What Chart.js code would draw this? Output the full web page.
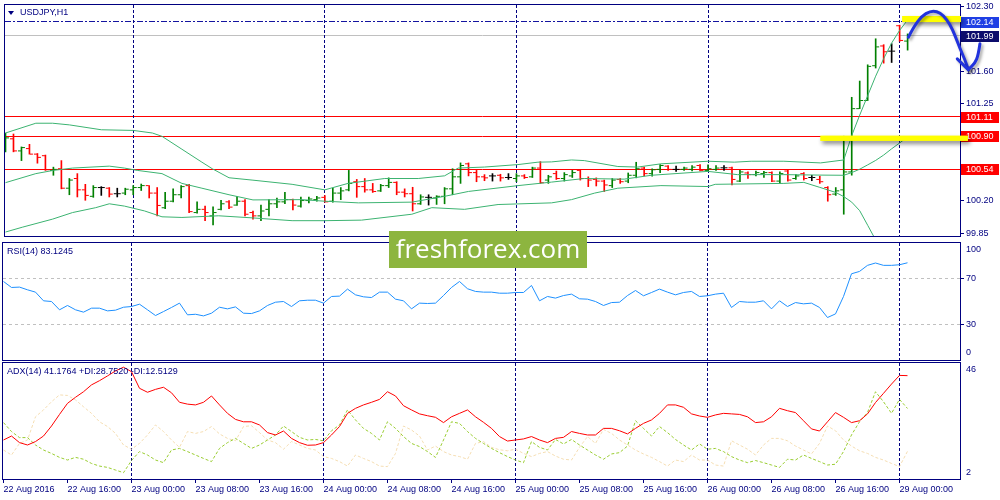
<!DOCTYPE html>
<html>
<head>
<meta charset="utf-8">
<title>USDJPY,H1</title>
<script src="https://cdn.jsdelivr.net/npm/chart.js@4.4.1/dist/chart.umd.min.js"></script>
<style>
  body { margin: 0; background: #fff; }
  #wrap { position: relative; width: 1000px; height: 500px; overflow: hidden; background: #fff; }
  #wrap canvas { position: absolute; left: 0; }
</style>
</head>
<body>
<div id="wrap">
  <canvas id="priceChart" width="1000" height="241" style="top:0px"></canvas>
  <canvas id="adxChart" width="1000" height="139" style="top:361px"></canvas>
  <canvas id="rsiChart" width="1000" height="137" style="top:225px"></canvas>
</div>
<script>
// ---- data (H1 bars from 22 Aug 2016 08:00 to 29 Aug 2016 01:00) ----
const opens = [100.793,100.871,100.740,100.765,100.705,100.688,100.529,100.547,100.336,100.441,
  100.318,100.248,100.343,100.336,100.276,100.283,100.318,100.343,100.364,100.283,
  100.124,100.195,100.265,100.364,100.072,100.107,100.036,100.107,100.188,100.153,
  100.195,100.072,100.036,100.107,100.167,100.188,100.212,100.142,100.202,100.212,
  100.237,100.195,100.283,100.318,100.406,100.353,100.318,100.307,100.364,100.399,
  100.293,100.276,100.167,100.237,100.230,100.248,100.329,100.459,100.600,100.505,
  100.459,100.469,100.476,100.452,100.441,100.469,100.459,100.554,100.424,100.494,
  100.441,100.469,100.529,100.441,100.431,100.413,100.364,100.431,100.413,100.476,
  100.554,100.494,100.540,100.575,100.540,100.540,100.540,100.582,100.529,100.540,
  100.557,100.557,100.413,100.501,100.483,100.494,100.505,100.413,100.522,100.441,
  100.494,100.452,100.431,100.343,100.272,100.318,100.512,101.198,101.286,101.663,
  101.877,101.821,102.096,101.930];
const highs = [100.934,100.923,100.783,100.811,100.712,100.695,100.564,100.635,100.441,100.494,
  100.378,100.364,100.353,100.343,100.336,100.336,100.364,100.381,100.364,100.343,
  100.290,100.329,100.364,100.378,100.188,100.142,100.135,100.205,100.202,100.248,
  100.212,100.089,100.153,100.212,100.230,100.290,100.219,100.241,100.241,100.248,
  100.255,100.336,100.343,100.529,100.431,100.441,100.388,100.378,100.448,100.406,
  100.329,100.346,100.265,100.265,100.255,100.343,100.547,100.610,100.610,100.529,
  100.483,100.494,100.487,100.494,100.494,100.483,100.564,100.624,100.476,100.522,
  100.505,100.529,100.536,100.459,100.448,100.424,100.441,100.441,100.501,100.617,
  100.564,100.547,100.593,100.582,100.575,100.564,100.582,100.593,100.589,100.582,
  100.582,100.564,100.529,100.512,100.522,100.519,100.512,100.512,100.536,100.483,
  100.505,100.476,100.466,100.353,100.343,100.899,101.321,101.497,101.673,101.955,
  101.891,101.902,102.103,102.008];
const lows = [100.730,100.730,100.635,100.705,100.607,100.529,100.476,100.329,100.265,100.241,
  100.205,100.237,100.258,100.241,100.241,100.265,100.265,100.311,100.230,100.036,
  100.114,100.188,100.230,100.072,100.065,99.984,99.938,100.100,100.114,100.149,
  100.036,100.001,99.984,100.036,100.124,100.167,100.100,100.131,100.177,100.195,
  100.184,100.184,100.212,100.307,100.237,100.293,100.290,100.300,100.343,100.265,
  100.241,100.089,100.160,100.153,100.160,100.167,100.265,100.388,100.469,100.406,
  100.417,100.413,100.413,100.431,100.406,100.441,100.452,100.388,100.388,100.431,
  100.413,100.452,100.424,100.353,100.360,100.300,100.343,100.388,100.395,100.448,
  100.469,100.466,100.505,100.529,100.519,100.529,100.522,100.522,100.522,100.529,
  100.529,100.371,100.406,100.441,100.469,100.452,100.406,100.388,100.413,100.431,
  100.424,100.417,100.388,100.195,100.258,100.054,100.477,101.198,101.286,101.638,
  101.691,101.698,101.927,101.832];
const closes = [100.881,100.740,100.776,100.705,100.670,100.536,100.540,100.336,100.424,100.318,
  100.258,100.343,100.343,100.272,100.276,100.325,100.343,100.364,100.283,100.149,
  100.195,100.265,100.353,100.082,100.107,100.072,100.072,100.167,100.131,100.195,
  100.054,100.036,100.089,100.167,100.188,100.212,100.153,100.202,100.219,100.230,
  100.188,100.283,100.307,100.388,100.353,100.318,100.300,100.364,100.399,100.293,
  100.276,100.167,100.241,100.237,100.248,100.329,100.459,100.582,100.505,100.459,
  100.448,100.469,100.448,100.452,100.469,100.452,100.554,100.395,100.459,100.441,
  100.483,100.505,100.441,100.424,100.413,100.371,100.424,100.406,100.476,100.547,
  100.494,100.536,100.582,100.540,100.540,100.554,100.564,100.529,100.547,100.554,
  100.557,100.431,100.512,100.483,100.505,100.505,100.413,100.494,100.424,100.469,
  100.441,100.452,100.406,100.265,100.307,100.512,101.198,101.286,101.656,101.867,
  101.814,101.821,101.937,101.990];

// Bollinger bands as [bar, price]
const bbUpper = [[0,100.934],[3.8,101.040],[5.9,101.040],[8,101.022],[12,100.969],[16,100.962],
  [18.4,100.934],[19.6,100.898],[22.1,100.758],[24.6,100.618],[25.9,100.547],[28,100.449],
  [31,100.423],[35.9,100.378],[40,100.318],[42.9,100.388],[47.5,100.441],[51.7,100.441],
  [55,100.470],[56.7,100.554],[60,100.565],[64.2,100.592],[66.7,100.618],[68.4,100.621],
  [70.9,100.642],[72.5,100.635],[76.7,100.571],[79.2,100.565],[82.1,100.600],[88,100.628],
  [91.3,100.618],[93.4,100.628],[97.5,100.628],[102.1,100.610],[105,100.642],[106,100.906],
  [107,101.128],[108,101.339],[109,101.550],[110,101.740],[111,101.909],[112,102.046],[113,102.159]];
const bbMiddle = [[0,100.396],[3.8,100.494],[6,100.529],[8.4,100.554],[13,100.575],[14.9,100.554],
  [16.5,100.529],[19.6,100.494],[22.1,100.388],[24.6,100.336],[28,100.265],[31,100.209],
  [37.1,100.212],[40,100.195],[44.2,100.177],[50.9,100.185],[55,100.248],[58,100.301],
  [64.2,100.364],[68.4,100.402],[72.5,100.441],[77.5,100.434],[80.9,100.476],[88,100.518],
  [91.7,100.483],[97.5,100.483],[102,100.478],[105,100.476],[106,100.505],[107,100.542],
  [108,100.589],[109,100.637],[110,100.695],[111,100.763],[112,100.826],[113,100.892]];
const bbLower = [[0,99.861],[2.1,99.913],[5.9,100.001],[8.4,100.072],[11.3,100.125],[13,100.167],
  [14.9,100.142],[17.4,100.090],[19.6,100.026],[22.1,100.019],[26.7,100.037],[31,100.014],
  [35.9,99.984],[40,99.984],[44.6,99.990],[50.9,100.054],[53.4,100.125],[57.5,100.107],
  [61.7,100.159],[68.4,100.177],[70.9,100.212],[73.8,100.283],[76.7,100.336],[82.1,100.364],
  [88,100.354],[88.9,100.378],[97.5,100.388],[100,100.399],[102,100.345],[104,100.290],
  [105,100.245],[106,100.185],[107,100.092],[108,99.934],[109,99.775],[110,99.638],
  [111,99.511],[112,99.385],[113,99.279]];

const rsi = [67.1,62.0,62.3,60.0,58.0,50.6,50.0,42.9,46.6,42.9,
  40.9,44.3,44.3,42.0,42.6,45.1,45.7,47.7,42.9,38.0,
  41.4,44.9,48.6,38.6,39.1,37.7,40.0,45.1,43.7,45.4,
  40.0,39.7,42.0,46.6,49.4,50.0,45.7,50.6,51.1,51.1,
  48.6,54.3,54.6,60.6,55.7,54.0,53.4,58.0,58.0,52.0,
  50.6,43.7,48.6,48.3,48.6,55.1,62.0,67.1,60.9,58.6,
  58.0,58.0,57.1,57.1,57.7,57.7,63.7,50.6,54.3,52.9,
  55.1,56.3,52.3,52.0,50.0,46.6,49.1,49.4,55.1,59.4,
  54.9,57.7,60.6,58.0,55.7,57.7,58.6,54.3,54.9,56.3,
  57.1,44.9,50.0,49.4,49.4,50.6,43.7,50.6,45.7,49.1,
  48.0,48.6,44.9,36.3,39.4,54.3,73.7,75.7,80.9,82.9,
  80.9,80.9,81.4,83.1];
const adx = [16.8,18.3,15.8,14.9,16.2,18.3,22.1,26.5,30.7,33.0,
  35.1,37.7,39.3,41.1,43.0,44.4,42.7,36.4,34.9,36.0,
  36.8,34.7,31.1,30.4,30.1,31.1,33.5,30.1,26.9,24.6,
  23.7,23.7,22.5,19.6,18.7,20.2,17.4,15.8,14.8,14.9,
  15.8,18.7,21.9,26.9,28.8,30.1,31.1,32.2,35.1,33.5,
  29.8,28.2,26.7,26.0,25.4,23.4,25.6,26.9,28.2,25.6,
  23.5,21.2,18.1,16.4,16.8,17.2,18.1,16.8,15.8,17.4,
  17.8,20.0,19.3,18.7,18.7,21.2,21.2,20.3,19.1,21.2,
  23.1,24.4,26.9,30.1,30.1,29.2,26.7,25.9,25.4,26.3,
  26.9,26.7,26.5,25.6,23.4,23.7,25.6,28.8,27.9,27.2,
  24.1,21.0,20.2,23.7,27.2,25.4,23.4,24.1,26.7,31.0,
  34.5,38.0,41.3,41.2];
const plusDI = [23.4,20.0,17.7,17.7,14.9,13.0,11.7,10.2,9.2,10.2,
  9.5,7.9,6.9,6.4,5.4,4.4,9.0,12.4,11.1,9.2,
  8.2,13.0,13.6,12.4,11.1,9.8,8.6,13.6,15.8,17.4,
  15.5,13.6,14.9,16.8,18.7,22.1,20.0,17.8,16.8,17.0,
  16.5,20.3,22.5,28.2,24.4,21.2,19.3,16.8,23.7,21.2,
  18.1,15.5,14.3,12.4,10.2,16.8,23.7,23.1,20.0,17.4,
  15.5,13.6,12.0,10.5,9.2,8.2,16.2,14.0,13.0,17.0,
  15.3,17.0,14.9,13.0,11.1,9.5,11.5,12.0,14.5,24.1,
  21.2,18.3,21.9,19.6,17.0,14.9,13.0,15.3,13.3,13.6,
  12.4,10.5,9.2,8.2,9.0,8.2,7.3,6.4,9.5,9.2,
  11.1,9.8,8.6,7.3,7.6,12.4,18.7,23.7,27.2,35.1,
  31.3,26.9,32.2,28.75];
const minusDI = [13.0,11.1,15.5,16.8,25.6,28.2,31.3,33.9,33.7,32.0,
  29.4,26.9,23.7,21.9,19.3,14.9,13.3,15.5,18.7,22.5,
  20.0,16.8,14.0,20.0,19.3,20.0,21.9,19.1,17.4,16.5,
  21.9,22.2,19.6,16.8,15.8,13.3,16.2,14.9,13.6,13.0,
  10.5,9.8,8.6,6.9,11.1,9.8,8.6,6.9,6.7,11.7,
  22.1,20.6,18.3,13.0,14.5,12.4,11.1,10.5,9.5,15.5,
  16.2,14.0,13.1,12.7,13.3,11.7,10.5,11.7,12.4,10.7,
  9.5,9.2,14.0,18.1,15.5,20.8,19.3,16.8,14.9,13.0,
  11.5,10.2,8.6,6.9,9.2,8.6,11.1,9.2,9.2,7.3,
  6.9,16.5,14.9,13.3,11.1,14.9,17.4,17.4,16.5,14.5,
  13.0,11.5,15.5,22.1,20.3,16.8,14.5,12.7,11.7,10.2,
  9.2,7.9,6.7,12.51];

const tickIdx = [0,8,16,24,32,40,48,56,64,72,80,88,96,104,112];
const tickLabels = ['22 Aug 2016','22 Aug 16:00','23 Aug 00:00','23 Aug 08:00','23 Aug 16:00',
  '24 Aug 00:00','24 Aug 08:00','24 Aug 16:00','25 Aug 00:00','25 Aug 08:00','25 Aug 16:00',
  '26 Aug 00:00','26 Aug 08:00','26 Aug 16:00','29 Aug 00:00'];
const daySeps = [16, 40, 64, 88, 112];
const priceTicks = [99.85, 100.20, 101.25, 101.60, 102.30];
const rsiLevels = [70, 30];

// chart objects drawn on the price panel
const levelPrices = [101.11, 100.90, 100.54];
const markPrice = 102.14;
const bidPrice = 101.99;
const tagPrices = [102.14, 101.99, 101.11, 100.90, 100.54];
const tagColors = ['#1f3fe4', '#0c0c6c', '#ff0000', '#ff0000', '#ff0000'];
const zones = [[112.31, 119.69, 102.136, 102.202], [102.06, 120.56, 100.848, 100.906]];
const arrowCurve = [[113.1,101.972],[113.73,102.078],[114.78,102.202],[115.81,102.254],[116.65,102.254],
  [117.48,102.208],[118.31,102.113],[118.94,101.990],[119.56,101.849],[120.19,101.726],[120.6,101.621]];
const arrowBarbL = [[119.22,101.737],[119.8,101.687],[120.6,101.621]];
const arrowBarbR = [[122.06,101.902],[121.85,101.779],[121.44,101.690],[120.6,101.621]];

// ---- styling ----
const NAVY = '#000080';
const FONT = '"Liberation Sans", Arial, sans-serif';
const X_MIN = -0.0625, X_MAX = 119.5625;
Chart.defaults.font.family = FONT;
Chart.defaults.font.size = 9;
Chart.defaults.color = NAVY;

const bars = closes.map((_, i) => i);
const barColor = closes.map((c, i) => c > opens[i] ? '#008000' : (c < opens[i] ? '#ff0000' : '#000000'));
const pairs = arr => arr.map(p => ({ x: p[0], y: p[1] }));
const series = arr => arr.map((v, i) => ({ x: i, y: v }));

function hiddenX() {
  return { type: 'linear', min: X_MIN, max: X_MAX, display: false, offset: false };
}
function rightAxis(extra) {
  return Object.assign({
    position: 'right',
    afterFit: s => { s.width = 40; s.paddingTop = 0; s.paddingBottom = 0; },
    border: { display: false }
  }, extra);
}

function drawFrame(chart) {
  const { ctx, chartArea: a } = chart;
  ctx.save();
  ctx.strokeStyle = NAVY;
  ctx.lineWidth = 1;
  ctx.strokeRect(a.left - 0.5, a.top - 0.5, a.right - a.left + 1, a.bottom - a.top + 1);
  ctx.restore();
}

function drawDaySeps(chart) {
  const { ctx, chartArea: a, scales: { x } } = chart;
  ctx.save();
  ctx.strokeStyle = NAVY;
  ctx.lineWidth = 1;
  ctx.setLineDash([3, 2]);
  daySeps.forEach(i => {
    const xp = Math.floor(x.getPixelForValue(i)) + 0.5;
    ctx.beginPath();
    ctx.moveTo(xp, a.top);
    ctx.lineTo(xp, a.bottom);
    ctx.stroke();
  });
  ctx.restore();
}

function hline(chart, price, color, dash) {
  const { ctx, chartArea: a, scales: { y } } = chart;
  const yp = Math.floor(y.getPixelForValue(price)) + 0.5;
  ctx.save();
  ctx.strokeStyle = color;
  ctx.lineWidth = 1;
  ctx.setLineDash(dash);
  ctx.beginPath();
  ctx.moveTo(a.left, yp);
  ctx.lineTo(a.right, yp);
  ctx.stroke();
  ctx.restore();
}

function smoothPath(ctx, pts) {
  ctx.beginPath();
  ctx.moveTo(pts[0][0], pts[0][1]);
  for (let k = 1; k < pts.length - 1; k++) {
    const mx = (pts[k][0] + pts[k + 1][0]) / 2, my = (pts[k][1] + pts[k + 1][1]) / 2;
    ctx.quadraticCurveTo(pts[k][0], pts[k][1], mx, my);
  }
  const last = pts[pts.length - 1];
  ctx.lineTo(last[0], last[1]);
  ctx.stroke();
}

function panelTitle(chart, text) {
  const { ctx, chartArea: a } = chart;
  ctx.save();
  ctx.fillStyle = NAVY;
  ctx.font = '9px ' + FONT;
  ctx.textBaseline = 'middle';
  ctx.fillText(text, a.left + 4, a.top + 9);
  ctx.restore();
}

const pricePlugin = {
  id: 'priceOverlay',
  beforeDatasetsDraw(chart) {
    hline(chart, bidPrice, '#c0c0c0', []);
    levelPrices.forEach(p => hline(chart, p, '#ff0000', []));
    hline(chart, markPrice, '#1414a0', [6, 2, 2, 2]);
    drawDaySeps(chart);
  },
  afterDraw(chart) {
    const { ctx, chartArea: a, scales: { x, y } } = chart;
    const toPx = p => [x.getPixelForValue(p[0]), y.getPixelForValue(p[1])];

    // price tags on the axis
    ctx.save();
    ctx.font = '9px ' + FONT;
    ctx.textBaseline = 'middle';
    tagPrices.forEach((p, k) => {
      const yp = Math.round(y.getPixelForValue(p));
      ctx.fillStyle = tagColors[k];
      ctx.fillRect(a.right + 1, yp - 5, 38, 11);
      ctx.fillStyle = '#ffffff';
      ctx.fillText(p.toFixed(2), a.right + 6, yp + 0.5);
    });
    ctx.restore();

    drawFrame(chart);

    // yellow highlight boxes (annotation layer, over the tags)
    ctx.save();
    ctx.fillStyle = '#ffff00';
    ctx.shadowColor = 'rgba(0,0,0,0.45)';
    ctx.shadowBlur = 4;
    ctx.shadowOffsetX = 2;
    ctx.shadowOffsetY = 3;
    zones.forEach(z => {
      const x0 = x.getPixelForValue(z[0]), x1 = x.getPixelForValue(z[1]);
      const y0 = y.getPixelForValue(z[3]), y1 = y.getPixelForValue(z[2]);
      ctx.fillRect(x0, y0, x1 - x0, y1 - y0);
    });
    ctx.restore();

    // hand-drawn arrow
    ctx.save();
    ctx.strokeStyle = '#2233dd';
    ctx.lineWidth = 3;
    ctx.lineCap = 'round';
    ctx.lineJoin = 'round';
    ctx.shadowColor = 'rgba(0,0,0,0.35)';
    ctx.shadowBlur = 3;
    ctx.shadowOffsetX = 2;
    ctx.shadowOffsetY = 2;
    smoothPath(ctx, arrowCurve.map(toPx));
    smoothPath(ctx, arrowBarbL.map(toPx));
    smoothPath(ctx, arrowBarbR.map(toPx));
    ctx.restore();

    // symbol title
    ctx.save();
    ctx.fillStyle = NAVY;
    ctx.beginPath();
    ctx.moveTo(a.left + 3, a.top + 6);
    ctx.lineTo(a.left + 9, a.top + 6);
    ctx.lineTo(a.left + 6, a.top + 10);
    ctx.closePath();
    ctx.fill();
    ctx.font = '9px ' + FONT;
    ctx.textBaseline = 'middle';
    ctx.fillText('USDJPY,H1', a.left + 15, a.top + 8);
    ctx.restore();
  }
};

new Chart(document.getElementById('priceChart'), {
  type: 'line',
  data: {
    datasets: [
      { data: pairs(bbUpper), borderColor: '#3cb371', borderWidth: 1, pointRadius: 0, tension: 0 },
      { data: pairs(bbMiddle), borderColor: '#3cb371', borderWidth: 1, pointRadius: 0, tension: 0 },
      { data: pairs(bbLower), borderColor: '#3cb371', borderWidth: 1, pointRadius: 0, tension: 0 },
      { type: 'bar', data: bars.map(i => ({ x: i, y: [lows[i], highs[i]] })),
        backgroundColor: barColor, barThickness: 1, borderWidth: 0 },
      { data: bars.map(i => ({ x: i - 0.25, y: opens[i] })), showLine: false,
        pointStyle: 'line', pointRadius: 1.5, pointBorderWidth: 1, pointBorderColor: barColor },
      { data: bars.map(i => ({ x: i + 0.25, y: closes[i] })), showLine: false,
        pointStyle: 'line', pointRadius: 1.5, pointBorderWidth: 1, pointBorderColor: barColor }
    ]
  },
  options: {
    responsive: false,
    animation: false,
    events: [],
    layout: { padding: { left: 3, top: 2, right: 0, bottom: 2 } },
    plugins: { legend: { display: false }, tooltip: { enabled: false } },
    scales: {
      x: hiddenX(),
      y: rightAxis({
        min: 99.818, max: 102.321, beginAtZero: false,
        afterBuildTicks: s => { s.ticks = priceTicks.map(v => ({ value: v })); },
        ticks: { color: NAVY, padding: 2, callback: v => v.toFixed(2) },
        grid: { drawOnChartArea: false, tickLength: 4, tickColor: NAVY }
      })
    }
  },
  plugins: [pricePlugin]
});

const rsiPlugin = {
  id: 'rsiOverlay',
  beforeDatasetsDraw(chart) { drawDaySeps(chart); },
  afterDraw(chart) {
    const { ctx, chartArea: a, scales: { y } } = chart;
    drawFrame(chart);
    panelTitle(chart, 'RSI(14) 83.1245');
    ctx.save();
    ctx.fillStyle = NAVY;
    ctx.font = '9px ' + FONT;
    ctx.textBaseline = 'middle';
    ctx.fillText('100', a.right + 6, y.getPixelForValue(100) + 7);
    ctx.fillText('0', a.right + 6, y.getPixelForValue(0) - 7);
    // watermark
    ctx.fillStyle = '#8db53f';
    ctx.fillRect(389, 6, 198, 37);
    ctx.fillStyle = '#ffffff';
    ctx.font = '26px "Open Sans", sans-serif';
    ctx.textAlign = 'center';
    ctx.textBaseline = 'alphabetic';
    ctx.fillText('freshforex.com', 488, 33);
    ctx.restore();
  }
};

new Chart(document.getElementById('rsiChart'), {
  type: 'line',
  data: {
    datasets: [
      { data: series(rsi), borderColor: '#1e90ff', borderWidth: 1, pointRadius: 0, tension: 0 }
    ]
  },
  options: {
    responsive: false,
    animation: false,
    events: [],
    layout: { padding: { left: 3, top: 18, right: 0, bottom: 2 } },
    plugins: { legend: { display: false }, tooltip: { enabled: false } },
    scales: {
      x: hiddenX(),
      y: rightAxis({
        min: 0, max: 100,
        afterBuildTicks: s => { s.ticks = rsiLevels.map(v => ({ value: v })); },
        ticks: { color: NAVY, padding: 2 },
        grid: { color: '#c0c0c0', tickColor: NAVY, tickLength: 4 },
        border: { display: false, dash: [3, 3] }
      })
    }
  },
  plugins: [rsiPlugin]
});

const adxPlugin = {
  id: 'adxOverlay',
  beforeDatasetsDraw(chart) { drawDaySeps(chart); },
  afterDraw(chart) {
    const { ctx, chartArea: a, scales: { y } } = chart;
    drawFrame(chart);
    panelTitle(chart, 'ADX(14) 41.1764 +DI:28.7520 -DI:12.5129');
    ctx.save();
    ctx.fillStyle = NAVY;
    ctx.font = '9px ' + FONT;
    ctx.textBaseline = 'middle';
    ctx.fillText('46', a.right + 6, y.getPixelForValue(46) + 7);
    ctx.fillText('2', a.right + 6, y.getPixelForValue(2) - 6);
    ctx.restore();
  }
};

new Chart(document.getElementById('adxChart'), {
  type: 'line',
  data: {
    datasets: [
      { data: series(adx), borderColor: '#ff0000', borderWidth: 1, pointRadius: 0, tension: 0 },
      { data: series(plusDI), borderColor: '#9acd32', borderWidth: 1, borderDash: [3, 2], pointRadius: 0, tension: 0 },
      { data: series(minusDI), borderColor: '#f5deb3', borderWidth: 1, borderDash: [3, 2], pointRadius: 0, tension: 0 }
    ]
  },
  options: {
    responsive: false,
    animation: false,
    events: [],
    layout: { padding: { left: 3, top: 2, right: 0, bottom: 0 } },
    plugins: { legend: { display: false }, tooltip: { enabled: false } },
    scales: {
      x: {
        type: 'linear', min: X_MIN, max: X_MAX, offset: false,
        afterBuildTicks: s => { s.ticks = tickIdx.map(v => ({ value: v })); },
        afterFit: s => { s.height = 21; s.paddingLeft = 0; s.paddingRight = 0; },
        ticks: { align: 'start', autoSkip: false, maxRotation: 0, minRotation: 0, padding: 1,
                 color: NAVY, callback: (v, k) => tickLabels[k] },
        grid: { drawOnChartArea: false, tickLength: 4, tickColor: NAVY },
        border: { display: false }
      },
      y: rightAxis({
        min: 2, max: 46,
        ticks: { display: false },
        grid: { display: false }
      })
    }
  },
  plugins: [adxPlugin]
});
</script>
</body>
</html>
